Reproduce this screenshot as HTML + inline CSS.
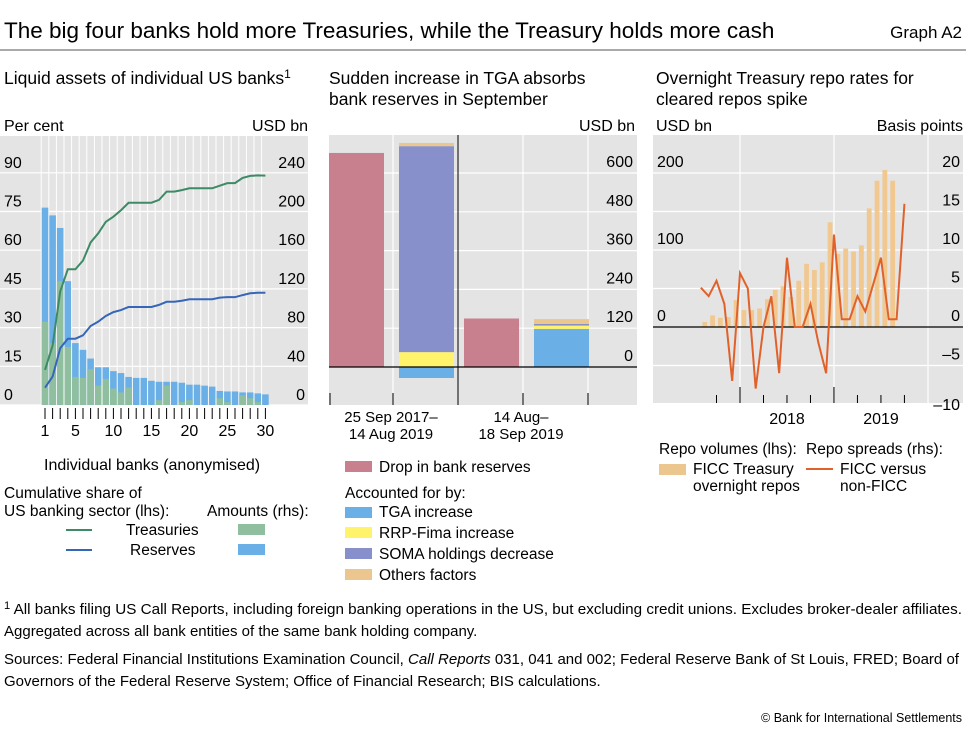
<!DOCTYPE html>
<html><head><meta charset="utf-8"><style>
body{margin:0;background:#fff}
svg text{font-family:"Liberation Sans",sans-serif;fill:#000}
</style></head><body>
<svg id="s" width="966" height="734" viewBox="0 0 966 734" xmlns="http://www.w3.org/2000/svg">
<text x="4" y="38" font-size="22.5">The big four banks hold more Treasuries, while the Treasury holds more cash</text>
<text x="962" y="38" font-size="17" text-anchor="end">Graph A2</text>
<line x1="0" y1="50" x2="966" y2="50" stroke="#555" stroke-width="1"/>
<text x="4" y="84" font-size="17.5">Liquid assets of individual US banks<tspan font-size="12" dy="-6">1</tspan></text>
<text x="329" y="84" font-size="17.5">Sudden increase in TGA absorbs</text>
<text x="329" y="105" font-size="17.5">bank reserves in September</text>
<text x="656" y="84" font-size="17.5">Overnight Treasury repo rates for</text>
<text x="656" y="105" font-size="17.5">cleared repos spike</text>
<g id="left"></g><g id="mid"></g><g id="right"></g>
<text x="44" y="470" font-size="16">Individual banks (anonymised)</text>
<text x="4" y="498" font-size="15.5">Cumulative share of</text>
<text x="4" y="516" font-size="15.5">US banking sector (lhs):</text>
<text x="207" y="516" font-size="15.5">Amounts (rhs):</text>
<line x1="66" y1="530" x2="92" y2="530" stroke="#3d8a66" stroke-width="2"/>
<text x="126" y="535" font-size="15.5">Treasuries</text>
<rect x="238" y="524" width="27" height="11" fill="#8fbf9f"/>
<line x1="66" y1="550" x2="92" y2="550" stroke="#3566b8" stroke-width="2"/>
<text x="130" y="555" font-size="15.5">Reserves</text>
<rect x="238" y="544" width="27" height="11" fill="#6ab0e6"/>

<rect x="345" y="461" width="27" height="11" fill="#c8808f"/>
<text x="379" y="472" font-size="15.5">Drop in bank reserves</text>
<text x="345" y="498" font-size="15.5">Accounted for by:</text>
<rect x="345" y="507" width="27" height="11" fill="#6ab0e6"/>
<text x="379" y="517" font-size="15.5">TGA increase</text>
<rect x="345" y="527" width="27" height="11" fill="#fff36b"/>
<text x="379" y="538" font-size="15.5">RRP-Fima increase</text>
<rect x="345" y="548" width="27" height="11" fill="#8890cc"/>
<text x="379" y="559" font-size="15.5">SOMA holdings decrease</text>
<rect x="345" y="569" width="27" height="11" fill="#ebc68f"/>
<text x="379" y="580" font-size="15.5">Others factors</text>

<text x="659" y="454" font-size="15.5">Repo volumes (lhs):</text>
<rect x="659" y="464" width="27" height="11" fill="#ebc68f"/>
<text x="693" y="474" font-size="15.5">FICC Treasury</text>
<text x="693" y="491" font-size="15.5">overnight repos</text>
<text x="806" y="454" font-size="15.5">Repo spreads (rhs):</text>
<line x1="806" y1="469" x2="833" y2="469" stroke="#e0622a" stroke-width="2"/>
<text x="840" y="474" font-size="15.5">FICC versus</text>
<text x="840" y="491" font-size="15.5">non-FICC</text>

<text x="4" y="614" font-size="15" textLength="958" lengthAdjust="spacingAndGlyphs"><tspan font-size="11" dy="-5">1</tspan><tspan dy="5">  All banks filing US Call Reports, including foreign banking operations in the US, but excluding credit unions. Excludes broker-dealer affiliates.</tspan></text>
<text x="4" y="636" font-size="15">Aggregated across all bank entities of the same bank holding company.</text>
<text x="4" y="664" font-size="15" textLength="955" lengthAdjust="spacingAndGlyphs">Sources: Federal Financial Institutions Examination Council, <tspan font-style="italic">Call Reports</tspan> 031, 041 and 002; Federal Reserve Bank of St Louis, FRED; Board of</text>
<text x="4" y="686" font-size="15">Governors of the Federal Reserve System; Office of Financial Research; BIS calculations.</text>
<text x="962" y="722" font-size="12.5" text-anchor="end">© Bank for International Settlements</text>
</svg>
<script>
// ---- Left panel data ----
const banks = [1,2,3,4,5,6,7,8,9,10,11,12,13,14,15,16,17,18,19,20,21,22,23,24,25,26,27,28,29,30];
const reservesAmt = [204,196,183,128,64,57,48,39,39,35,33,29,28,28,25,24,24,24,23,21,21,20,19,14.5,14,14,13,13,12,11];
const treasuriesAmt = [86,64,128,60,29,28,37,20,27,17,13,18,0,0,0,5,20,0,3,5,0,0,0,7,3,0,10,7,3,0];
const treasuriesShare = [13.6,23,44,52.6,52.6,56,63,66.5,71,73,75.5,78.4,78.4,78.4,78.4,79.5,82.7,82.7,83.3,84,84,84,84,85,86,86,88,88.8,89,88.9];
const reservesShare = [6.7,11,22,25.7,25.7,27,30.6,32.3,34.5,36,36.8,38,38,38,38,38.8,40,40,40.4,41,41,41,41,41.6,41.8,41.8,42.6,43.3,43.5,43.5];
const leftTicksL = [0,15,30,45,60,75,90];
const leftTicksR = [0,40,80,120,160,200,240];
const leftXLabels = [1,5,10,15,20,25,30];
// ---- Middle panel data ----
const midCats = ["25 Sep 2017–14 Aug 2019","14 Aug–18 Sep 2019"];
const dropReserves = [662,150];
const tgaInc = [-34,118];
const rrpInc = [46,10];
const somaDec = [637,5];
const otherF = [10,15];
const midTicks = [0,120,240,360,480,600];
// ---- Right panel data ----
const barMonths = ["2017-08","2017-09","2017-10","2017-11","2017-12","2018-01","2018-02","2018-03","2018-04","2018-05","2018-06","2018-07","2018-08","2018-09","2018-10","2018-11","2018-12","2019-01","2019-02","2019-03","2019-04","2019-05","2019-06","2019-07","2019-08"];
const repoVol = [6.5,15,12,13,35,22,22,24,36,48,53,39,60,82,74,84,136,95,102,98,106,154,190,204,190];
const lineMonths = ["2017-07","2017-08","2017-09","2017-10","2017-11","2017-12","2018-01","2018-02","2018-03","2018-04","2018-05","2018-06","2018-07","2018-08","2018-09","2018-10","2018-11","2018-12","2019-01","2019-02","2019-03","2019-04","2019-05","2019-06","2019-07","2019-08","2019-09"];
const spread = [5.1,4,6,3,-7,7,5,-8,0,4,-6,9,0,0,3,-2,-6,12,1,1,4,2,5.5,9,1,1,16];
const rightTicksL = [0,100,200];
const rightTicksR = [-10,-5,0,5,10,15,20];
const yearLabels = ["2018","2019"];

const NS="http://www.w3.org/2000/svg";
function mk(parent,tag,attrs,text){const e=document.createElementNS(NS,tag);for(const k in attrs)e.setAttribute(k,attrs[k]);if(text!==undefined)e.textContent=text;parent.appendChild(e);return e;}

// ===== Left =====
(function(){
const g=document.getElementById('left');
const x0=0,x1=308,top=136,bot=405;
const yL=v=>bot-v/15*38.7, yR=v=>bot-v/40*38.7;
const slot=7.6, xc=b=>45+(b-1)*slot;
let e=mk(g,'rect',{x:x0,y:top,width:x1-x0,height:bot-top,fill:'#e4e4e4'});

banks.forEach(b=>{const l=mk(g,'line',{x1:xc(b)-slot/2,x2:xc(b)-slot/2,y1:top,y2:bot,stroke:'#fff','stroke-width':1});
});
leftTicksL.forEach((t,i)=>{const y=yL(t);
const l=mk(g,'line',{x1:x0,x2:x1,y1:y,y2:y,stroke:'#fff','stroke-width':1.2});

const a=mk(g,'text',{x:4,y:y-5,'font-size':16},t);
const b=mk(g,'text',{x:305,y:y-5,'font-size':16,'text-anchor':'end'},leftTicksR[i]);});
banks.forEach((b,i)=>{
const r=mk(g,'rect',{x:xc(b)-3.3,y:yR(reservesAmt[i]),width:6.6,height:bot-yR(reservesAmt[i]),fill:'#6ab0e6'});

const t=mk(g,'rect',{x:xc(b)-3.3,y:yR(treasuriesAmt[i]),width:6.6,height:bot-yR(treasuriesAmt[i]),fill:'#8fbf9f'});

const k=mk(g,'line',{x1:xc(b),x2:xc(b),y1:bot+3,y2:bot+14,stroke:'#000','stroke-width':1});
});
leftXLabels.forEach(v=>{const a=mk(g,'text',{x:xc(v),y:bot+31,'font-size':16,'text-anchor':'middle'},v);
});
const p1=mk(g,'polyline',{points:banks.map((b,i)=>xc(b)+','+yL(treasuriesShare[i])).join(' '),fill:'none',stroke:'#3d8a66','stroke-width':2});

const p2=mk(g,'polyline',{points:banks.map((b,i)=>xc(b)+','+yL(reservesShare[i])).join(' '),fill:'none',stroke:'#3566b8','stroke-width':2});

let a=mk(g,'text',{x:4,y:131,'font-size':16,fill:'#666'},'Per cent');
a=mk(g,'text',{x:308,y:131,'font-size':16,'text-anchor':'end',fill:'#666'},'USD bn');
})();

// ===== Middle =====
(function(){
const g=document.getElementById('mid');
const x0=329,x1=637,top=135,bot=405,zero=367,k=38.8/120;
const y=v=>zero-v*k;
let e=mk(g,'rect',{x:x0,y:top,width:x1-x0,height:bot-top,fill:'#e4e4e4'});

midTicks.forEach(t=>{if(t===0)return;const l=mk(g,'line',{x1:x0,x2:x1,y1:y(t),y2:y(t),stroke:'#fff','stroke-width':1.2});
});
[393,523,588].forEach(xv=>{const l=mk(g,'line',{x1:xv,x2:xv,y1:top,y2:bot,stroke:'#fff','stroke-width':1.2});
});
midTicks.forEach(t=>{const a=mk(g,'text',{x:633,y:y(t)-6,'font-size':16,'text-anchor':'end'},t);
});
const groupX=[329,464];
midCats.forEach((c,i)=>{
const gx=groupX[i];
let r=mk(g,'rect',{x:gx,y:y(dropReserves[i]),width:55,height:zero-y(dropReserves[i]),fill:'#c8808f'});

const sx=gx+70;
let pos=0,neg=0;
[[tgaInc[i],'#6ab0e6','bar-tga'],[rrpInc[i],'#fff36b','bar-rrp'],[somaDec[i],'#8890cc','bar-soma'],[otherF[i],'#ebc68f','bar-others']].forEach(([v,col,nm])=>{
let y1,y2;if(v>=0){y1=y(pos+v);y2=y(pos);pos+=v;}else{y1=y(neg);y2=y(neg+v);neg+=v;}
const s=mk(g,'rect',{x:sx,y:y1,width:55,height:y2-y1,fill:col});
});
});
let l=mk(g,'line',{x1:458,x2:458,y1:top,y2:bot,stroke:'#000','stroke-width':1});
l=mk(g,'line',{x1:x0,x2:x1,y1:zero,y2:zero,stroke:'#000','stroke-width':1.3});
[330,393,458,523,588].forEach(xv=>{const t=mk(g,'line',{x1:xv,x2:xv,y1:393,y2:405,stroke:'#000','stroke-width':1});
});
const lab=[["25 Sep 2017–","14 Aug 2019"],["14 Aug–","18 Sep 2019"]];
[391,521].forEach((cx,i)=>{lab[i].forEach((s,j)=>{const a=mk(g,'text',{x:cx,y:422+j*17,'font-size':15,'text-anchor':'middle'},s);
});});
let a=mk(g,'text',{x:635,y:131,'font-size':16,'text-anchor':'end',fill:'#666'},'USD bn');
})();

// ===== Right =====
(function(){
const g=document.getElementById('right');
const x0=653,x1=963,top=135,bot=403,zero=327;
const yL=v=>zero-v*0.77, yR=v=>zero-v*7.7;
const m=7.83, jan18=740;
const mi=s=>{const [yy,mm]=s.split('-').map(Number);return (yy-2018)*12+(mm-1);};
let e=mk(g,'rect',{x:x0,y:top,width:x1-x0,height:bot-top,fill:'#e4e4e4'});

rightTicksR.forEach(t=>{if(t===0)return;const l=mk(g,'line',{x1:x0,x2:x1,y1:yR(t),y2:yR(t),stroke:'#fff','stroke-width':1.2});
});
[740,834,928].forEach(xv=>{const l=mk(g,'line',{x1:xv,x2:xv,y1:top,y2:bot,stroke:'#fff','stroke-width':1.2});
});
barMonths.forEach((mo,i)=>{const cx=jan18+(mi(mo)+0.5)*m;
const r=mk(g,'rect',{x:cx-2.4,y:yL(repoVol[i]),width:4.8,height:zero-yL(repoVol[i]),fill:'#f0c890'});
});
let l=mk(g,'line',{x1:x0,x2:x1,y1:zero,y2:zero,stroke:'#000','stroke-width':1.3});
const p=mk(g,'polyline',{points:lineMonths.map((mo,i)=>(jan18+(mi(mo)+1)*m)+','+yR(spread[i])).join(' '),fill:'none',stroke:'#e0622a','stroke-width':2});

for(let q=-1;q<=7;q++){const xv=jan18+q*3*m;const big=q%4===0;
const t=mk(g,'line',{x1:xv,x2:xv,y1:big?387:395,y2:bot,stroke:'#000','stroke-width':1});
}
yearLabels.forEach((yl,i)=>{const a=mk(g,'text',{x:787+i*94,y:424,'font-size':16,'text-anchor':'middle'},yl);
});
rightTicksL.forEach(t=>{const a=mk(g,'text',{x:657,y:yL(t)-6,'font-size':16},t);
});
rightTicksR.forEach(t=>{const a=mk(g,'text',{x:960,y:yR(t)-(t===-10?-6:6),'font-size':16,'text-anchor':'end'},t<0?'–'+Math.abs(t):t);
});
let a=mk(g,'text',{x:656,y:131,'font-size':16,fill:'#666'},'USD bn');
a=mk(g,'text',{x:963,y:131,'font-size':16,'text-anchor':'end',fill:'#666'},'Basis points');
})();
</script>
</body></html>
